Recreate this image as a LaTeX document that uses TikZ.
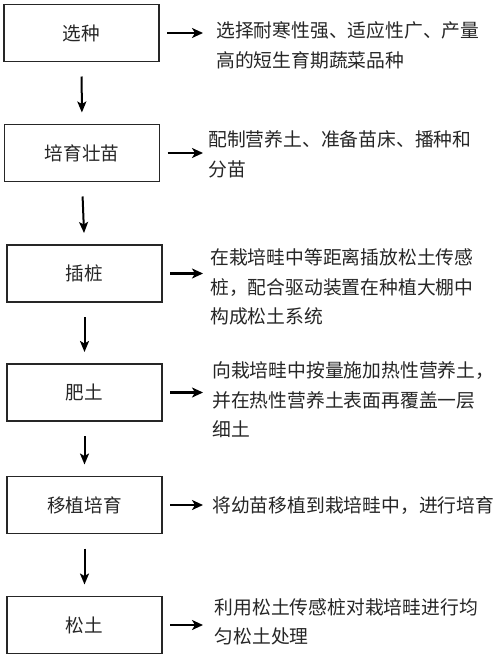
\documentclass[tikz,border=0pt]{standalone}
\usepackage{fontspec}
\newfontfamily\cjk{Noto Sans CJK SC}
\usetikzlibrary{arrows.meta}
\begin{document}
\begin{tikzpicture}[x=1pt,y=-1pt,
  stepbox/.style={draw=black!85,line width=1.1pt,minimum width=155pt,minimum height=57pt,inner sep=0pt,outer sep=0pt,font=\cjk\fontsize{18.6}{29}\selectfont,text=black!85},
  desc/.style={anchor=west,align=left,inner sep=0pt,font=\cjk\fontsize{18.8}{29.5}\selectfont,text=black!85},
  harrow/.style={line width=2.4pt,-{Stealth[length=11pt,width=10pt,inset=3pt]},shorten <=8pt},
  varrow/.style={line width=2pt,-{Stealth[length=11pt,width=9pt,inset=2.5pt]},shorten <=15pt,shorten >=12pt}]
\useasboundingbox[fill=white] (0,0) rectangle (500,659);
\node[stepbox] (b1) at (81.5,33) {选种};
\node[stepbox] (b2) at (82,153) {培育壮苗};
\node[stepbox] (b3) at (84.5,273.5) {插桩};
\node[stepbox] (b4) at (84.5,392.5) {肥土};
\node[stepbox] (b5) at (84.5,505) {移植培育};
\node[stepbox] (b6) at (84.5,625) {松土};
\coordinate (tip) at (203,0);
\node[desc] (t1) at (216,45.5) {选择耐寒性强、适应性广、产量\\高的短生育期蔬菜品种};
\node[desc] (t2) at (208,154.5) {配制营养土、准备苗床、播种和\\分苗};
\node[desc] (t3) at (210,287) {在栽培畦中等距离插放松土传感\\桩，配合驱动装置在种植大棚中\\构成松土系统};
\node[desc] (t4) at (212,400) {向栽培畦中按量施加热性营养土，\\并在热性营养土表面再覆盖一层\\细土};
\node[desc] (t5) at (212,505.5) {将幼苗移植到栽培畦中，进行培育};
\node[desc] (t6) at (214.5,622) {利用松土传感桩对栽培畦进行均\\匀松土处理};
\draw[harrow] (b1.east) -- (b1.east -| tip);
\draw[harrow] (b2.east) -- (b2.east -| tip);
\draw[harrow] (b3.east) -- (b3.east -| tip);
\draw[harrow] (b4.east) -- (b4.east -| tip);
\draw[harrow] (b5.east) -- (b5.east -| tip);
\draw[harrow] (b6.east) -- (b6.east -| tip);
\draw[varrow] (b1.south) -- (b2.north);
\draw[varrow] (b2.south) -- (b3.north);
\draw[varrow] (b3.south) -- (b4.north);
\draw[varrow] (b4.south) -- (b5.north);
\draw[varrow] (b5.south) -- (b6.north);
\end{tikzpicture}
\end{document}
